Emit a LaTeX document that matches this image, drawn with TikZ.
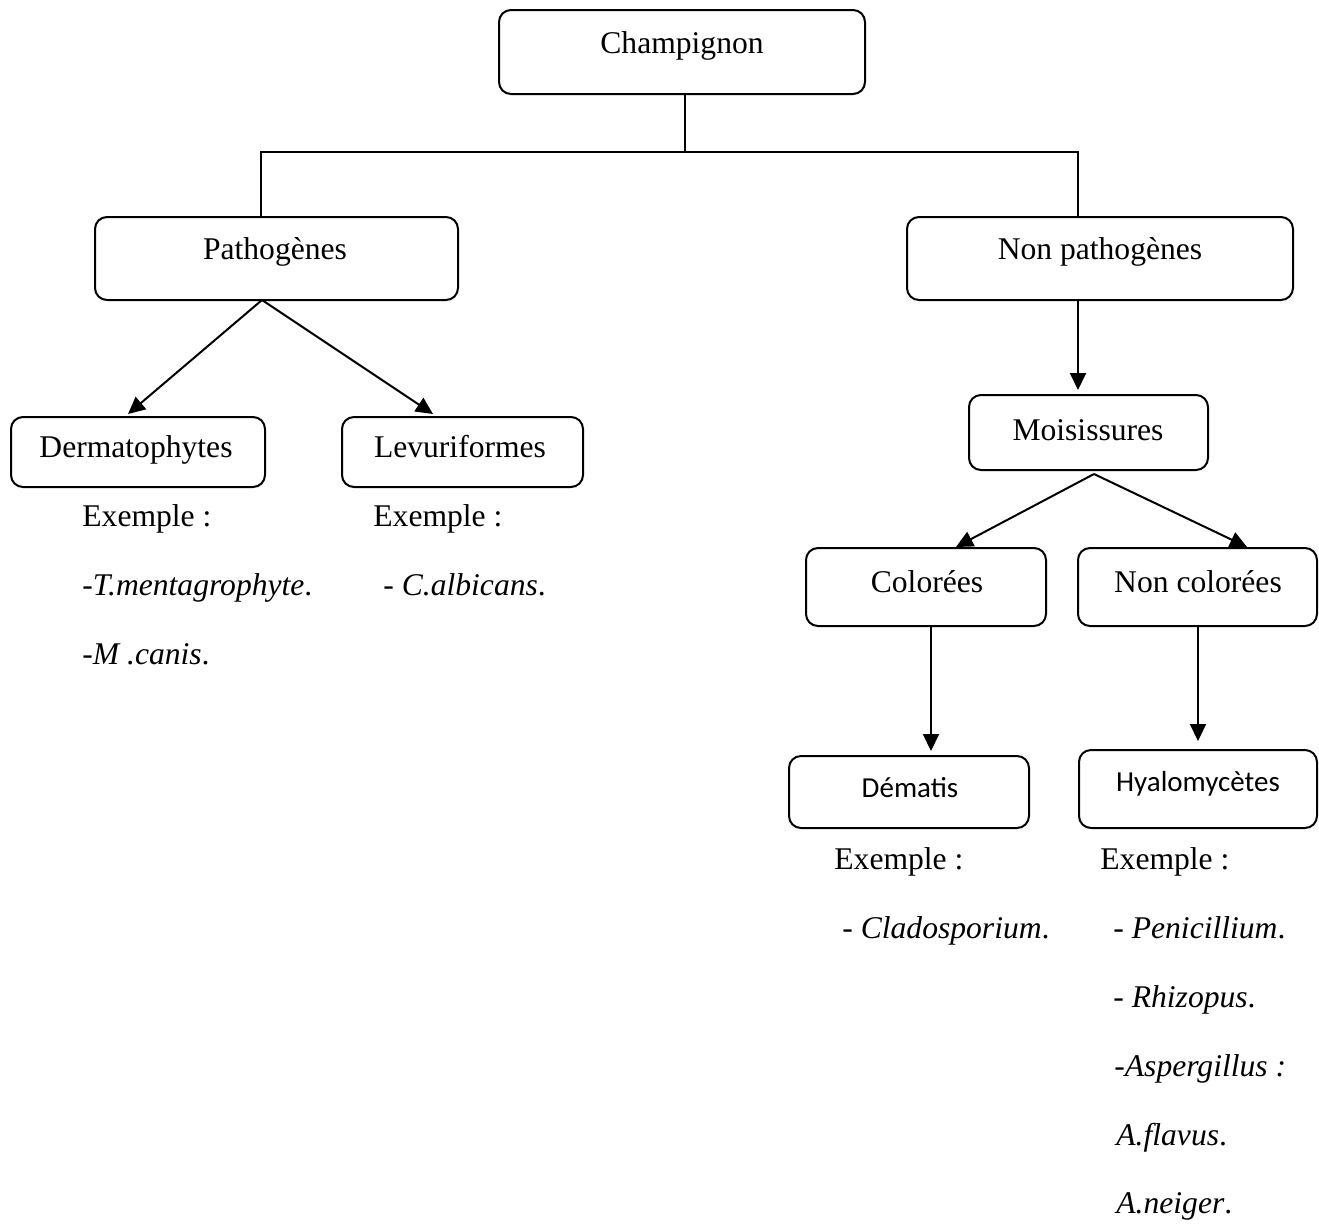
\documentclass[tikz,border=0pt]{standalone}
\usepackage{fontspec}
\setmainfont{Liberation Serif}
\newfontfamily\calibrifont{Carlito}
\usetikzlibrary{arrows.meta,fit}
\begin{document}
\begin{tikzpicture}[x=0.5pt,y=-0.5pt,
 box/.style={draw,line width=1pt,rounded corners=6pt,inner sep=0pt},
 lbl/.style={inner sep=0pt,anchor=base,font=\fontsize{15.8}{19}\selectfont},
 slbl/.style={inner sep=0pt,anchor=base,font=\calibrifont\fontsize{14.5}{17}\selectfont},
 ex/.style={inner sep=0pt,anchor=base west,font=\fontsize{15.8}{19}\selectfont},
 conn/.style={line width=1pt},
 arr/.style={line width=1pt,-{Triangle[length=8.5pt,width=8pt]}}]
\useasboundingbox (0,0) rectangle (1319,1223);

% boxes
\node[box,fit={(499,10) (865,94)}] (champ) {};
\node[box,fit={(95,217) (458,300)}] (patho) {};
\node[box,fit={(907,217) (1293,300)}] (nonp) {};
\node[box,fit={(11,417) (265,487)}] (derm) {};
\node[box,fit={(342,417) (583,487)}] (levu) {};
\node[box,fit={(969,395) (1208,470)}] (mois) {};
\node[box,fit={(806,548) (1046,626)}] (color) {};
\node[box,fit={(1078,548) (1317,626)}] (ncolor) {};
\node[box,fit={(789,756) (1029,828)}] (demat) {};
\node[box,fit={(1079,750) (1317,828)}] (hyalo) {};

% box labels
\node[lbl] (champT) at (682,53) {Champignon};
\node[lbl] (pathoT) at (275,259) {Pathogènes};
\node[lbl] (nonpT) at (1100,259) {Non pathogènes};
\node[lbl] (dermT) at (136,457) {Dermatophytes};
\node[lbl] (levuT) at (460,457) {Levuriformes};
\node[lbl] (moisT) at (1088,440) {Moisissures};
\node[lbl] (colorT) at (927,592) {Colorées};
\node[lbl] (ncolorT) at (1198,592) {Non colorées};
\node[slbl] (dematT) at (910,797) {Dématis};
\node[slbl] (hyaloT) at (1198,791) {Hyalomycètes};

% examples
\node[ex] (ex1) at (82,526) {Exemple :};
\node[ex] (ex1a) at (82,595) {-\textit{T.mentagrophyte}.};
\node[ex] (ex1b) at (82,664) {-\textit{M .canis}.};
\node[ex] (ex2) at (373,526) {Exemple :};
\node[ex] (ex2a) at (383,595) {- \textit{C.albicans}.};
\node[ex] (ex3) at (834,869) {Exemple :};
\node[ex] (ex3a) at (842,938) {- \textit{Cladosporium}.};
\node[ex] (ex4) at (1100,869) {Exemple :};
\node[ex] (ex4a) at (1113,938) {- \textit{Penicillium}.};
\node[ex] (ex4b) at (1113,1007) {- \textit{Rhizopus}.};
\node[ex] (ex4c) at (1114,1076) {-\textit{Aspergillus :}};
\node[ex] (ex4d) at (1116,1145) {\textit{A.flavus}.};
\node[ex] (ex4e) at (1116,1213) {\textit{A.neiger}.};

% connectors
\coordinate (jM) at (685,152);
\coordinate (jL) at (261,152);
\coordinate (jR) at (1078,152);
\draw[conn] (jM |- champ.south) -- (jM);
\draw[conn] (jL |- patho.north) -- (jL) -- (jR) -- (jR |- nonp.north);

\coordinate (pA) at (262,300);
\coordinate (dTip) at (128,414);
\coordinate (lTip) at (433,414);
\draw[arr] (pA) -- (dTip);
\draw[arr] (pA) -- (lTip);

\draw[arr,shorten >=2pt] (jR |- nonp.south) -- (jR |- mois.north);

\coordinate (mA) at (1094,474);
\coordinate (cTip) at (956,547);
\coordinate (nTip) at (1247,547);
\draw[arr] (mA) -- (cTip);
\draw[arr] (mA) -- (nTip);

\coordinate (cX) at (931,0);
\coordinate (nX) at (1198,0);
\draw[arr,shorten >=2pt] (cX |- color.south) -- (cX |- demat.north);
\draw[arr,shorten >=4pt] (nX |- ncolor.south) -- (nX |- hyalo.north);
\end{tikzpicture}
\end{document}
